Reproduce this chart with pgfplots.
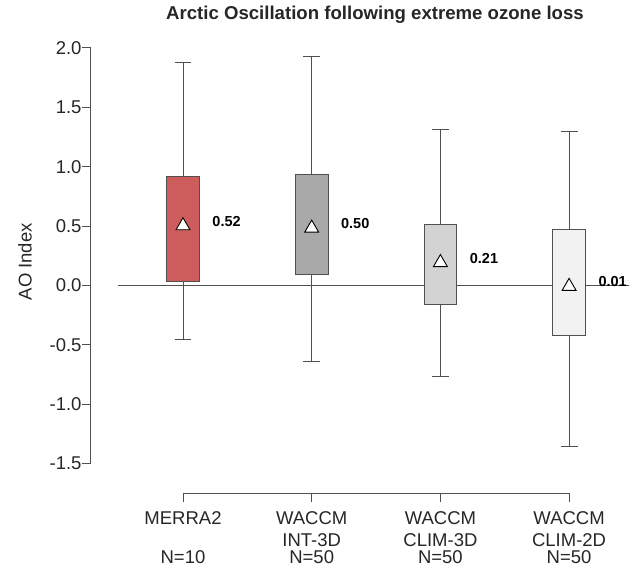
\documentclass[border=0pt]{standalone}
\usepackage{pgfplots}
\pgfplotsset{compat=1.18}
\usepgfplotslibrary{statistics}
\usepackage{fontspec}
\setmainfont{Liberation Sans}
\definecolor{c1}{HTML}{CD5C5C}
\definecolor{c2}{HTML}{A9A9A9}
\definecolor{c3}{HTML}{D3D3D3}
\definecolor{c4}{HTML}{F2F2F2}
\definecolor{ln}{HTML}{505050}
\begin{document}
\begin{tikzpicture}
\begin{axis}[
  x=128.7pt, y=118.8pt,
  xmin=0.2828, xmax=4.4654,
  ymin=-1.7475, ymax=2.0,
  clip=false,
  axis x line*=bottom, axis y line*=left,
  axis line style={draw=none},
  tick align=outside,
  major tick length=9pt,
  tick style={ln, line width=0.9pt},
  xtick={1,2,3,4},
  xticklabels={{MERRA2\\\mbox{}\\[-4.5pt]N=10},{WACCM\\INT-3D\\[-4.5pt]N=50},{WACCM\\CLIM-3D\\[-4.5pt]N=50},{WACCM\\CLIM-2D\\[-4.5pt]N=50}},
  ytick={-1.5,-1,-0.5,0,0.5,1,1.5,2},
  yticklabels={-1.5,-1.0,-0.5,0.0,0.5,1.0,1.5,2.0},
  ticklabel style={font=\fontsize{18.5}{22}\selectfont, text=black!85},
  xticklabel style={align=center, anchor=north, inner sep=0pt, yshift=-9pt},
  yticklabel style={anchor=east, inner sep=0pt},
  boxplot/draw direction=y,
  boxplot/box extend=0.254,
  boxplot/whisker extend=0.132,
  boxplot/draw/median/.code={},
]
% axis lines (R style, spanning only the tick range)
\draw[ln, line width=0.9pt] (axis cs:0.2828,-1.5) -- (axis cs:0.2828,2.0);
\draw[ln, line width=0.9pt] (axis cs:1,-1.7475) -- (axis cs:4,-1.7475);
% zero reference line
\draw[ln, line width=0.9pt] (axis cs:0.4973,0) -- (axis cs:4.4654,0);

\addplot[boxplot prepared={draw position=1, lower whisker=-0.456, lower quartile=0.038, median=0.5, upper quartile=0.916, upper whisker=1.879}, draw=ln, fill=c1, line width=0.9pt] coordinates {};
\addplot[boxplot prepared={draw position=2, lower whisker=-0.636, lower quartile=0.094, median=0.5, upper quartile=0.933, upper whisker=1.93}, draw=ln, fill=c2, line width=0.9pt] coordinates {};
\addplot[boxplot prepared={draw position=3, lower whisker=-0.762, lower quartile=-0.158, median=0.2, upper quartile=0.518, upper whisker=1.317}, draw=ln, fill=c3, line width=0.9pt] coordinates {};
\addplot[boxplot prepared={draw position=4, lower whisker=-1.354, lower quartile=-0.417, median=0.0, upper quartile=0.473, upper whisker=1.295}, draw=ln, fill=c4, line width=0.9pt] coordinates {};

% means
\addplot[only marks, mark=triangle*, mark size=8pt,
  mark options={fill=white, draw=black, line width=0.9pt, yshift=-2pt},
  point meta=explicit symbolic, nodes near coords,
  nodes near coords style={anchor=west, inner sep=0pt, xshift=29pt, yshift=4.5pt, font=\bfseries\fontsize{14.5}{17}\selectfont, text=black}]
  coordinates {(1,0.52) [0.52] (2,0.50) [0.50] (3,0.21) [0.21] (4,0.01) [0.01]};

\node[font=\bfseries\fontsize{18.6}{22}\selectfont, text=black!85] at (axis cs:2.4918,2.2770) {Arctic Oscillation following extreme ozone loss};
\node[rotate=90, font=\fontsize{18.5}{22}\selectfont, text=black!85] at (axis cs:-0.2277,0.2) {AO Index};

\coordinate (bl) at (axis cs:-0.42191,-2.3864);
\coordinate (tr) at (axis cs:4.46542,2.4032);
\end{axis}
\pgfresetboundingbox
\path[use as bounding box] (bl) rectangle (tr);
\end{tikzpicture}
\end{document}
